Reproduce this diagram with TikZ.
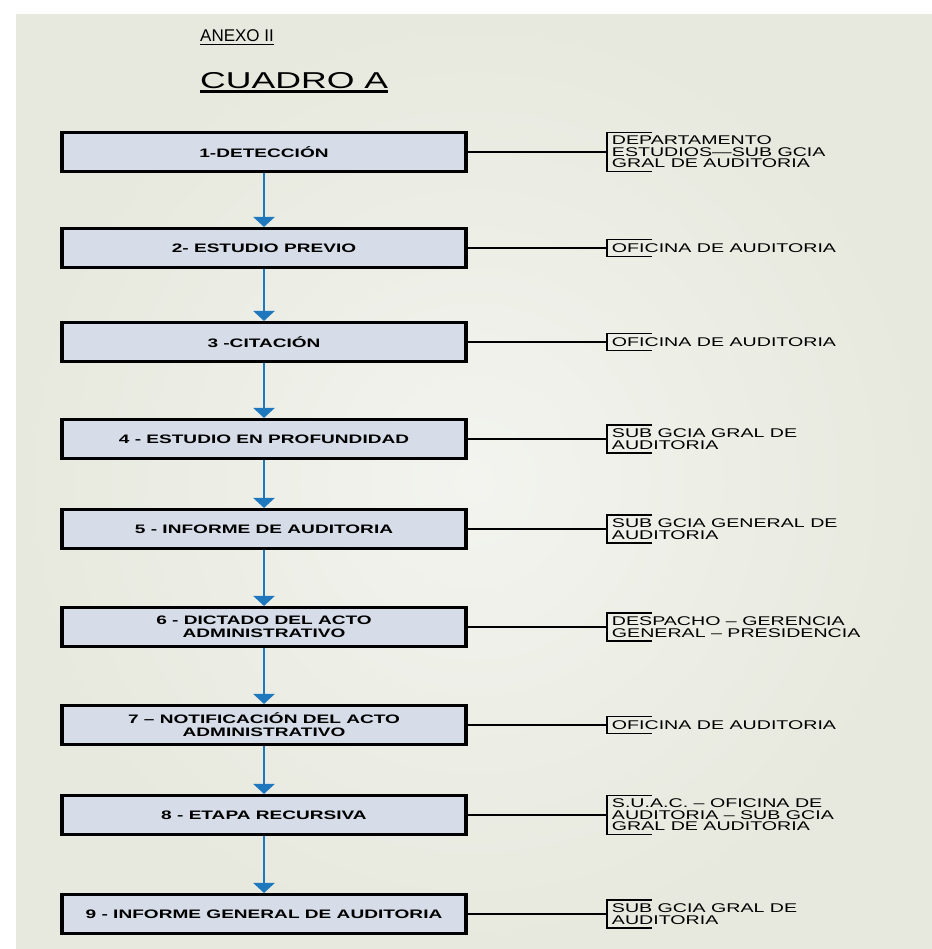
\documentclass[tikz,border=0pt]{standalone}
\usepackage{fontspec}
\usetikzlibrary{arrows.meta}
\setmainfont{Liberation Sans}
\newfontfamily\widefont[FakeStretch=1.55]{Liberation Sans}

\definecolor{bgcol}{RGB}{231,233,222}
\definecolor{bglight}{RGB}{243,244,239}
\definecolor{boxcol}{RGB}{214,221,232}
\definecolor{flowcol}{RGB}{31,120,190}

\begin{document}
\begin{tikzpicture}[x=0.03cm,y=-0.03cm,
  paso/.style={draw=black,line width=2.6pt,fill=boxcol,minimum width=12.12cm,
    minimum height=1.17cm,align=center,inner sep=1pt,
    font=\widefont\bfseries\fontsize{10.5}{11}\selectfont},
  resp/.style={anchor=west,align=left,inner xsep=4pt,inner ysep=3pt,
    font=\widefont\fontsize{10.8}{9.8}\selectfont},
  flow/.style={draw=flowcol,line width=2.5pt,-{Triangle[width=0.63cm,length=0.3cm]}},
  link/.style={draw=black,line width=1pt}]
  \useasboundingbox (0,0) rectangle (932,949);

  % Background
  \shade[inner color=bglight,outer color=bgcol] (16,14) rectangle (932,949);

  % Title
  \node[anchor=base west,inner sep=0,font=\fontsize{14.5}{16}\selectfont] (anexo) at (200,41) {ANEXO II};
  \draw[line width=1.6pt] ([yshift=-3pt]anexo.base west) -- ([yshift=-3pt]anexo.base east);
  \node[anchor=base west,inner sep=0,font=\widefont\fontsize{19.6}{21}\selectfont] (cuadro) at (200,88) {CUADRO A};
  \draw[line width=1.8pt] ([yshift=-3pt]cuadro.base west) -- ([yshift=-3pt]cuadro.base east);

  % Steps
  \node[paso] (det) at (264,152) {1-DETECCIÓN};
  \node[paso] (est) at (264,248) {2- ESTUDIO PREVIO};
  \node[paso] (cit) at (264,342) {3 -CITACIÓN};
  \node[paso] (prof) at (264,439) {4 - ESTUDIO EN PROFUNDIDAD};
  \node[paso] (inf) at (264,529) {5 - INFORME DE AUDITORIA};
  \node[paso] (dict) at (264,627) {6 - DICTADO DEL ACTO\\ADMINISTRATIVO};
  \node[paso] (notif) at (264,725) {7 – NOTIFICACIÓN DEL ACTO\\ADMINISTRATIVO};
  \node[paso] (recu) at (264,815) {8 - ETAPA RECURSIVA};
  \node[paso] (infgen) at (264,914) {9 - INFORME GENERAL DE AUDITORIA};

  % Arrows
  \draw[flow] (det) -- (est);
  \draw[flow] (est) -- (cit);
  \draw[flow] (cit) -- (prof);
  \draw[flow] (prof) -- (inf);
  \draw[flow] (inf) -- (dict);
  \draw[flow] (dict) -- (notif);
  \draw[flow] (notif) -- (recu);
  \draw[flow] (recu) -- (infgen);

  % Responsible areas
  \node[resp] (det-r) at (607,152) {DEPARTAMENTO\\ESTUDIOS—SUB GCIA\\GRAL DE AUDITORIA};
  \node[resp] (est-r) at (607,248) {OFICINA DE AUDITORIA};
  \node[resp] (cit-r) at (607,342) {OFICINA DE AUDITORIA};
  \node[resp] (prof-r) at (607,439) {SUB GCIA GRAL DE\\AUDITORIA};
  \node[resp] (inf-r) at (607,529) {SUB GCIA GENERAL DE\\AUDITORIA};
  \node[resp] (dict-r) at (607,627) {DESPACHO – GERENCIA\\GENERAL – PRESIDENCIA};
  \node[resp] (notif-r) at (607,725) {OFICINA DE AUDITORIA};
  \node[resp] (recu-r) at (607,815) {S.U.A.C. – OFICINA DE\\AUDITORIA – SUB GCIA\\GRAL DE AUDITORIA};
  \node[resp] (infgen-r) at (607,914) {SUB GCIA GRAL DE\\AUDITORIA};

  % Links and brackets
  \draw[link] (det) -- (det-r);
  \draw[link] (det-r.north west) ++(45,0) -- (det-r.north west) -- (det-r.south west) -- ++(45,0);
  \draw[link] (est) -- (est-r);
  \draw[link] (est-r.north west) ++(45,0) -- (est-r.north west) -- (est-r.south west) -- ++(45,0);
  \draw[link] (cit) -- (cit-r);
  \draw[link] (cit-r.north west) ++(45,0) -- (cit-r.north west) -- (cit-r.south west) -- ++(45,0);
  \draw[link] (prof) -- (prof-r);
  \draw[link] (prof-r.north west) ++(45,0) -- (prof-r.north west) -- (prof-r.south west) -- ++(45,0);
  \draw[link] (inf) -- (inf-r);
  \draw[link] (inf-r.north west) ++(45,0) -- (inf-r.north west) -- (inf-r.south west) -- ++(45,0);
  \draw[link] (dict) -- (dict-r);
  \draw[link] (dict-r.north west) ++(45,0) -- (dict-r.north west) -- (dict-r.south west) -- ++(45,0);
  \draw[link] (notif) -- (notif-r);
  \draw[link] (notif-r.north west) ++(45,0) -- (notif-r.north west) -- (notif-r.south west) -- ++(45,0);
  \draw[link] (recu) -- (recu-r);
  \draw[link] (recu-r.north west) ++(45,0) -- (recu-r.north west) -- (recu-r.south west) -- ++(45,0);
  \draw[link] (infgen) -- (infgen-r);
  \draw[link] (infgen-r.north west) ++(45,0) -- (infgen-r.north west) -- (infgen-r.south west) -- ++(45,0);
\end{tikzpicture}
\end{document}
